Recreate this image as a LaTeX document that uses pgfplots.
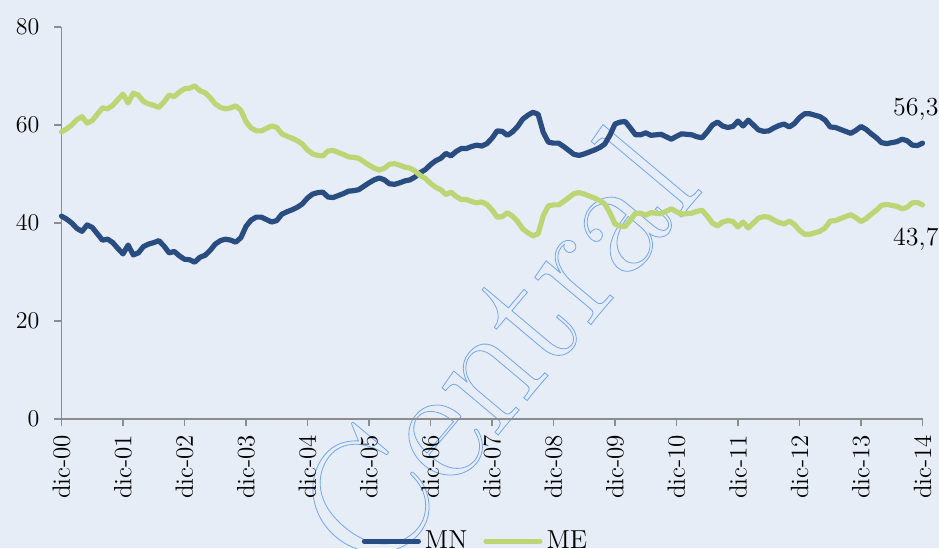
\documentclass[border=0pt]{standalone}
\usepackage{fontspec}
\usepackage{pgfplots}
\usepackage{pgfplotstable}
\pgfplotsset{compat=1.18}
\definecolor{bg}{RGB}{231,237,246}
\definecolor{mn}{RGB}{41,77,128}
\definecolor{me}{RGB}{188,214,118}
\definecolor{axgray}{RGB}{140,140,140}
\definecolor{wm}{RGB}{110,160,225}

\pgfplotstableread{
m mn me
0 41.4 58.6
1 40.8 59.2
2 40.0 60.0
3 38.9 61.1
4 38.3 61.7
5 39.6 60.4
6 39.1 60.9
7 37.8 62.2
8 36.5 63.5
9 36.7 63.3
10 36.0 64.0
11 34.8 65.2
12 33.7 66.3
13 35.5 64.5
14 33.5 66.5
15 33.9 66.1
16 35.2 64.8
17 35.7 64.3
18 36.0 64.0
19 36.4 63.6
20 35.3 64.7
21 33.9 66.1
22 34.2 65.8
23 33.3 66.7
24 32.6 67.4
25 32.5 67.5
26 32.0 68.0
27 33.0 67.0
28 33.4 66.6
29 34.4 65.6
30 35.7 64.3
31 36.4 63.6
32 36.7 63.3
33 36.5 63.5
34 36.1 63.9
35 37.0 63.0
36 39.3 60.7
37 40.6 59.4
38 41.2 58.8
39 41.2 58.8
40 40.7 59.3
41 40.2 59.8
42 40.5 59.5
43 41.8 58.2
44 42.3 57.7
45 42.7 57.3
46 43.2 56.8
47 43.9 56.1
48 45.1 54.9
49 45.9 54.1
50 46.2 53.8
51 46.3 53.7
52 45.3 54.7
53 45.2 54.8
54 45.6 54.4
55 46.0 54.0
56 46.5 53.5
57 46.6 53.4
58 46.8 53.2
59 47.5 52.5
60 48.2 51.8
61 48.8 51.2
62 49.2 50.8
63 48.8 51.2
64 48.0 52.0
65 47.9 52.1
66 48.2 51.8
67 48.6 51.4
68 48.8 51.2
69 49.4 50.6
70 50.3 49.7
71 50.9 49.1
72 51.9 48.1
73 52.7 47.3
74 53.2 46.8
75 54.2 45.8
76 53.7 46.3
77 54.6 45.4
78 55.2 44.8
79 55.2 44.8
80 55.6 44.4
81 55.9 44.1
82 55.7 44.3
83 56.2 43.8
84 57.3 42.7
85 58.8 41.2
86 58.7 41.3
87 57.9 42.1
88 58.6 41.4
89 59.7 40.3
90 61.2 38.8
91 62.0 38.0
92 62.6 37.4
93 62.2 37.8
94 58.5 41.5
95 56.5 43.5
96 56.3 43.7
97 56.3 43.7
98 55.6 44.4
99 54.8 45.2
100 54.0 46.0
101 53.8 46.2
102 54.1 45.9
103 54.5 45.5
104 54.9 45.1
105 55.4 44.6
106 56.1 43.9
107 57.9 42.1
108 60.2 39.8
109 60.6 39.4
110 60.7 39.3
111 59.4 40.6
112 58.0 42.0
113 58.0 42.0
114 58.4 41.6
115 57.9 42.1
116 58.0 42.0
117 58.1 41.9
118 57.6 42.4
119 57.1 42.9
120 57.7 42.3
121 58.2 41.8
122 58.1 41.9
123 58.0 42.0
124 57.6 42.4
125 57.4 42.6
126 58.6 41.4
127 60.0 40.0
128 60.6 39.4
129 59.8 40.2
130 59.5 40.5
131 59.7 40.3
132 60.8 39.2
133 59.8 40.2
134 61.0 39.0
135 60.0 40.0
136 59.0 41.0
137 58.7 41.3
138 58.8 41.2
139 59.4 40.6
140 59.9 40.1
141 60.2 39.8
142 59.6 40.4
143 60.3 39.7
144 61.5 38.5
145 62.3 37.7
146 62.3 37.7
147 62.0 38.0
148 61.7 38.3
149 61.0 39.0
150 59.6 40.4
151 59.5 40.5
152 59.1 40.9
153 58.7 41.3
154 58.3 41.7
155 58.9 41.1
156 59.7 40.3
157 59.1 40.9
158 58.2 41.8
159 57.4 42.6
160 56.4 43.6
161 56.2 43.8
162 56.4 43.6
163 56.6 43.4
164 57.1 42.9
165 56.8 43.2
166 55.9 44.1
167 55.8 44.2
168 56.3 43.7
}\data

\begin{document}
\begin{tikzpicture}
\fill[bg] (-30.75pt,-64.5pt) rectangle (438.75pt,209.5pt);
\path[use as bounding box] (-30.75pt,-64.5pt) rectangle (438.75pt,209.5pt);
% watermark (outlined text)
\node[rotate=50, inner sep=0pt, anchor=center] at (217pt,36pt)
  {\fontsize{86}{86}\selectfont\special{pdf:literal direct q 1 Tr 0.4 w 0.45 0.65 0.92 RG}Central\special{pdf:literal direct Q}};
\begin{axis}[
  at={(0,0)}, anchor=south west,
  scale only axis, width=430.5pt, height=196pt,
  xmin=0, xmax=168, ymin=0, ymax=80,
  axis lines*=left,
  axis line style={axgray, line width=0.65pt, -},
  tick style={axgray, line width=0.65pt},
  tick align=outside, major tick length=3.5pt,
  xtick={0,12,...,168},
  xticklabels={dic-00,dic-01,dic-02,dic-03,dic-04,dic-05,dic-06,dic-07,dic-08,dic-09,dic-10,dic-11,dic-12,dic-13,dic-14},
  x tick label style={rotate=90, anchor=east, xshift=-1pt, font=\fontsize{12.5}{13}\selectfont},
  ytick={0,20,...,80},
  y tick label style={xshift=-4pt, font=\fontsize{12.5}{13}\selectfont},
  clip=false,
  legend style={at={(axis description cs:0.482,-0.312)}, anchor=center, draw=none, fill=none,
     legend columns=2, font=\fontsize{13}{13}\selectfont, inner sep=0pt,
     /tikz/every even column/.append style={column sep=6pt},
     /tikz/every odd column/.append style={column sep=0pt}},
  legend image code/.code={\draw[#1, line width=2.6pt, line cap=round] (0pt,0pt) -- (27pt,0pt);},
  every axis plot/.append style={line width=2.6pt, line join=round, line cap=round},
]
\addplot[mn] table[x=m, y=mn] {\data};
\addlegendentry{MN}
\addplot[me] table[x=m, y=me] {\data};
\addlegendentry{ME}
\node[anchor=base east, font=\fontsize{13}{13}\selectfont, inner sep=0pt] at (axis cs:171.2,62.0) {56,3};
\node[anchor=base east, font=\fontsize{13}{13}\selectfont, inner sep=0pt] at (axis cs:171.2,35.5) {43,7};
\end{axis}
\end{tikzpicture}
\end{document}
